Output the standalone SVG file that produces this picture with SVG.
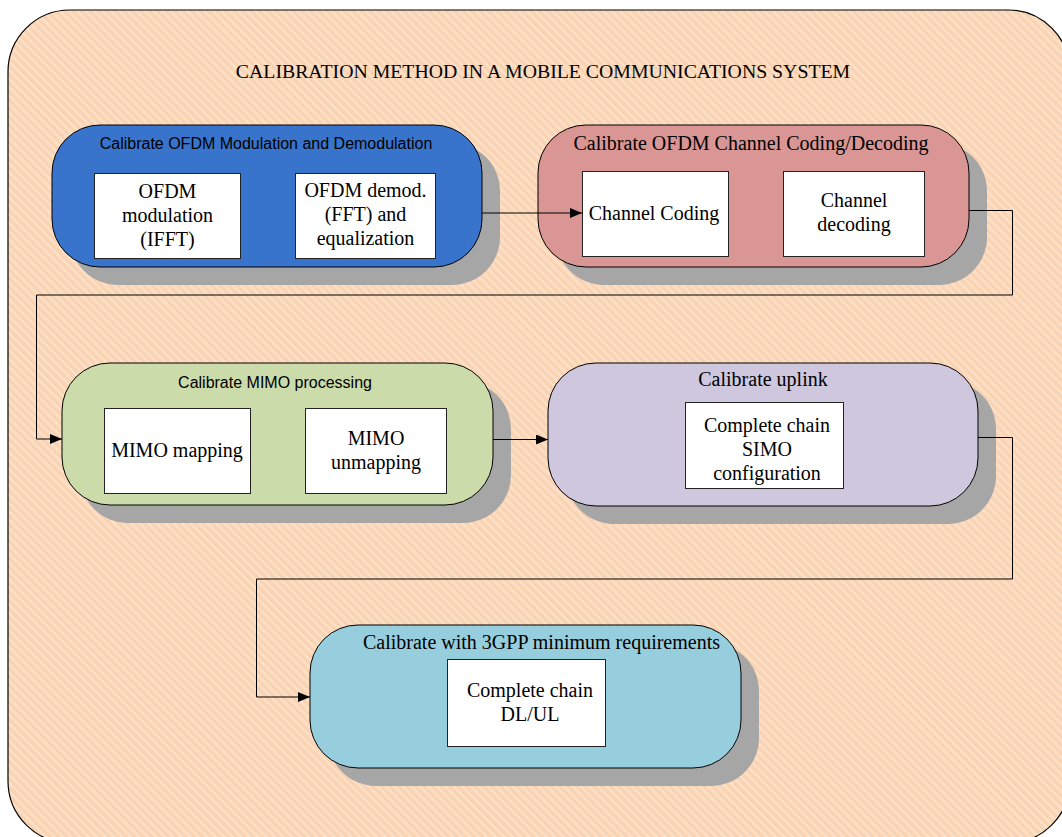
<svg xmlns="http://www.w3.org/2000/svg" width="1062" height="837" viewBox="0 0 1062 837">
<defs>
<pattern id="hatch" patternUnits="userSpaceOnUse" width="6" height="6" patternTransform="rotate(45)">
<rect width="6" height="6" fill="#FAD3B3"/>
<rect width="6" height="2.6" fill="#FDE0C8"/>
</pattern>
<marker id="arr" viewBox="0 0 12 10" refX="12" refY="5" markerWidth="12" markerHeight="10" markerUnits="userSpaceOnUse" orient="auto">
<path d="M0,0 L12,5 L0,10 Z" fill="#000"/>
</marker>
</defs>
<style>
.node{stroke:#000;stroke-width:1}
.shadow{fill:#A6A6A6}
.box{fill:#fff;stroke:#222;stroke-width:1}
.serif{font-family:"Liberation Serif","Times New Roman",serif;font-size:20px;fill:#000;text-anchor:middle}
.sans{font-family:"Liberation Sans",Arial,sans-serif;font-size:16px;fill:#000;text-anchor:middle}
.conn{fill:none;stroke:#000;stroke-width:1}
</style>
<g id="background">
<rect x="8" y="10" width="1062" height="833" rx="62" ry="62" fill="url(#hatch)" stroke="#000" stroke-width="1.2"/>
<text class="serif" x="543" y="78" style="font-size:19.8px">CALIBRATION METHOD IN A MOBILE COMMUNICATIONS SYSTEM</text>
</g>
<g id="node-ofdm-mod">
<rect class="shadow" x="70" y="143" width="430" height="142" rx="48"/>
<rect class="node" x="52" y="125" width="430" height="142" rx="48" fill="#3874CB"/>
<text class="sans" x="266" y="149">Calibrate OFDM Modulation and Demodulation</text>
<rect class="box" x="94.5" y="173.5" width="146" height="85"/>
<text class="serif" x="167.5" y="198">OFDM</text>
<text class="serif" x="167.5" y="222">modulation</text>
<text class="serif" x="167.5" y="246">(IFFT)</text>
<rect class="box" x="295.5" y="173.5" width="140" height="85"/>
<text class="serif" x="365.5" y="197">OFDM demod.</text>
<text class="serif" x="365.5" y="221">(FFT) and</text>
<text class="serif" x="365.5" y="245">equalization</text>
</g>
<g id="node-channel-coding">
<rect class="shadow" x="556" y="143" width="431" height="142" rx="48"/>
<rect class="node" x="538" y="125" width="431" height="142" rx="48" fill="#D99694"/>
<text class="serif" x="751" y="150">Calibrate OFDM Channel Coding/Decoding</text>
<rect class="box" x="582.5" y="171.5" width="146" height="85"/>
<text class="serif" x="654" y="220">Channel Coding</text>
<rect class="box" x="783.5" y="171.5" width="141" height="85"/>
<text class="serif" x="854" y="207">Channel</text>
<text class="serif" x="854" y="231">decoding</text>
</g>
<g id="node-mimo">
<rect class="shadow" x="80" y="381" width="431" height="142" rx="48"/>
<rect class="node" x="62" y="363" width="431" height="142" rx="48" fill="#CCDBAA"/>
<text class="sans" x="275" y="388">Calibrate MIMO processing</text>
<rect class="box" x="104.5" y="408.5" width="146" height="85"/>
<text class="serif" x="177" y="457">MIMO mapping</text>
<rect class="box" x="305.5" y="408.5" width="141" height="85"/>
<text class="serif" x="376" y="445">MIMO</text>
<text class="serif" x="376" y="469">unmapping</text>
</g>
<g id="node-uplink">
<rect class="shadow" x="566" y="381" width="430" height="143" rx="48"/>
<rect class="node" x="548" y="363" width="430" height="143" rx="48" fill="#CFC7DD"/>
<text class="serif" x="763" y="386">Calibrate uplink</text>
<rect class="box" x="685.5" y="402.5" width="158" height="86"/>
<text class="serif" x="767" y="432">Complete chain</text>
<text class="serif" x="767" y="456">SIMO</text>
<text class="serif" x="767" y="480">configuration</text>
</g>
<g id="node-3gpp">
<rect class="shadow" x="328" y="643" width="431" height="143" rx="48"/>
<rect class="node" x="310" y="625" width="431" height="143" rx="48" fill="#97CEDD"/>
<text class="serif" x="541.5" y="649">Calibrate with 3GPP minimum requirements</text>
<rect class="box" x="447.5" y="659.5" width="158" height="87"/>
<text class="serif" x="530" y="697">Complete chain</text>
<text class="serif" x="530" y="721">DL/UL</text>
</g>
<g id="connectors">
<path class="conn" d="M482,213 L582,213" marker-end="url(#arr)"/>
<path class="conn" d="M969,210.5 L1012.5,210.5 L1012.5,295 L36.5,295 L36.5,439 L62,439" marker-end="url(#arr)"/>
<path class="conn" d="M493,439.5 L548,439.5" marker-end="url(#arr)"/>
<path class="conn" d="M978,437.5 L1012.5,437.5 L1012.5,579 L256.5,579 L256.5,697 L310,697" marker-end="url(#arr)"/>
</g>
</svg>
